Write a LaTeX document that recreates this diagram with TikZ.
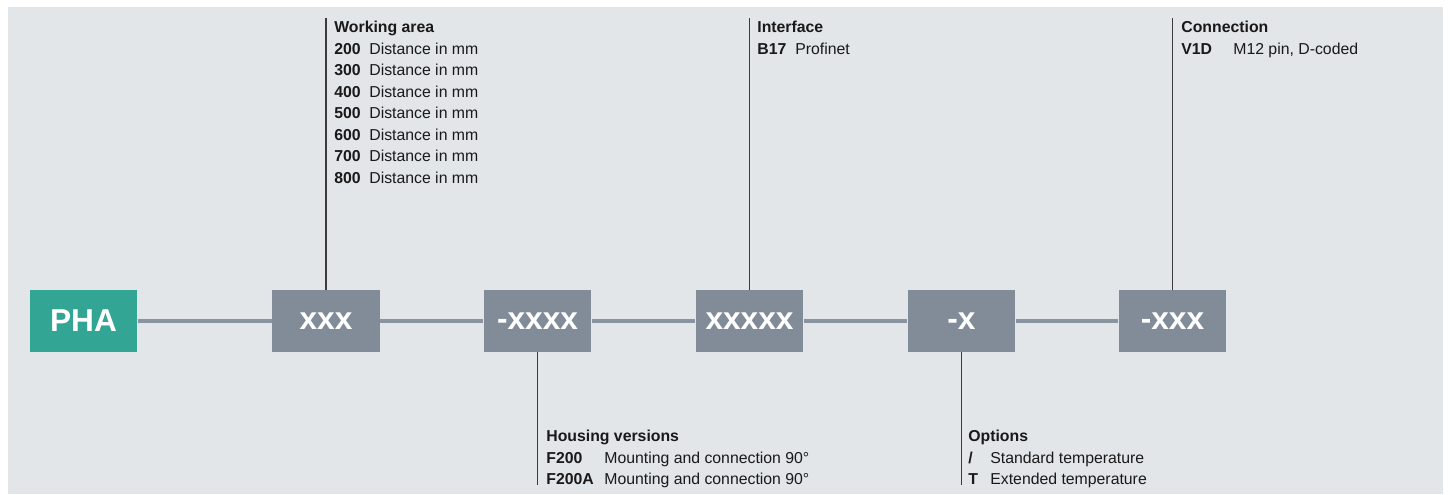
\documentclass[tikz,border=0pt]{standalone}
\usepackage{fontspec}
\setmainfont{Liberation Sans}
\definecolor{bggray}{HTML}{E2E6E9}
\definecolor{boxgray}{HTML}{828C99}
\definecolor{phateal}{HTML}{33A594}
\definecolor{linegray}{HTML}{8A94A0}
\definecolor{leadgray}{HTML}{3C3C3C}
\tikzset{
  codebox/.style={fill=boxgray, minimum width=2.15cm, minimum height=1.24cm, inner sep=0,
    text=white, font=\fontsize{18}{20}\selectfont\bfseries},
  chainline/.style={draw=linegray, line width=2.2pt},
  leader/.style={draw=leadgray, line width=0.85pt},
  keytext/.style={anchor=base west, inner sep=0, text=black!90, font=\fontsize{9}{11}\selectfont},
  keybold/.style={keytext, font=\fontsize{9}{11}\selectfont\bfseries}
}
\begin{document}
\begin{tikzpicture}[x=0.02cm, y=-0.02cm]
    % Hintergrund
    \useasboundingbox (0,0) rectangle (1451,494);
    \fill[white] (0,0) rectangle (1451,494);
    \fill[bggray] (8,7) rectangle (1443,494);

    % Typenschluessel
    \node[codebox, fill=phateal] (pha) at (83.5,321) {PHA};
    \node[codebox] (area) at (326,321) {xxx};
    \node[codebox] (housing) at (537.5,321) {-xxxx};
    \node[codebox] (iface) at (749.5,321) {xxxxx};
    \node[codebox] (opt) at (961.5,321) {-x};
    \node[codebox] (conn) at (1172.5,321) {-xxx};

    \draw[chainline] (pha) -- (area);
    \draw[chainline] (area) -- (housing);
    \draw[chainline] (housing) -- (iface);
    \draw[chainline] (iface) -- (opt);
    \draw[chainline] (opt) -- (conn);

    % Hinweislinien
    \coordinate (area top) at (326,18);
    \coordinate (iface top) at (749.5,18);
    \coordinate (conn top) at (1172.5,18);
    \coordinate (housing end) at (537.5,485);
    \coordinate (opt end) at (961.5,485);
    \draw[leader] (area.north) -- (area top);
    \draw[leader] (iface.north) -- (iface top);
    \draw[leader] (conn.north) -- (conn top);
    \draw[leader] (housing.south) -- (housing end);
    \draw[leader] (opt.south) -- (opt end);

    % Working area
    \node[keybold] (area title) at (334,32.5) {Working area};
    \foreach \val [count=\i] in {200,300,400,500,600,700,800} {
        \node[keybold] (area code\i) at (334,32.5+21.5*\i) {\val};
        \node[keytext] (area desc\i) at (369,32.5+21.5*\i) {Distance in mm};
    }

    % Interface
    \node[keybold] (iface title) at (757,32.5) {Interface};
    \node[keybold] (iface code) at (757,54) {B17};
    \node[keytext] (iface desc) at (795,54) {Profinet};

    % Connection
    \node[keybold] (conn title) at (1181,32.5) {Connection};
    \node[keybold] (conn code) at (1181,54) {V1D};
    \node[keytext] (conn desc) at (1233,54) {M12 pin, D-coded};

    % Housing versions
    \node[keybold] (housing title) at (546,441.5) {Housing versions};
    \node[keybold] (housing code1) at (546,463) {F200};
    \node[keytext] (housing desc1) at (604,463) {Mounting and connection 90°};
    \node[keybold] (housing code2) at (546,484.5) {F200A};
    \node[keytext] (housing desc2) at (604,484.5) {Mounting and connection 90°};

    % Options
    \node[keybold] (opt title) at (968,441.5) {Options};
    \node[keybold] (opt code1) at (968,463) {/};
    \node[keytext] (opt desc1) at (990,463) {Standard temperature};
    \node[keybold] (opt code2) at (968,484.5) {T};
    \node[keytext] (opt desc2) at (990,484.5) {Extended temperature};
\end{tikzpicture}
\end{document}
